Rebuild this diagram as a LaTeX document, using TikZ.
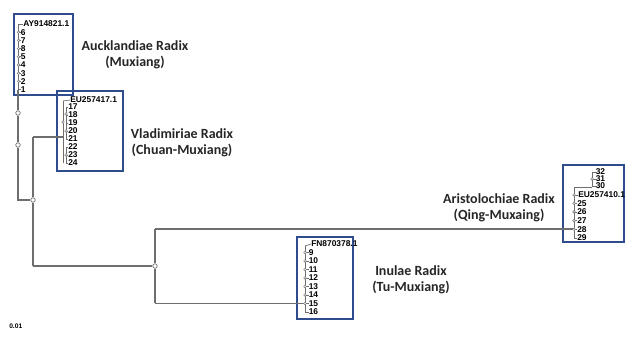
\documentclass[tikz,border=0pt]{standalone}
\usepackage{fontspec}
\usepackage{xcolor}
\usetikzlibrary{positioning}
\newfontfamily\cladofont{Carlito}
\newfontfamily\puntafont{Liberation Sans}
\definecolor{grisRama}{HTML}{6E6E6E}
\definecolor{azulCaja}{HTML}{2F4C8E}
\definecolor{textoClado}{HTML}{262626}

\begin{document}
\begin{tikzpicture}[
  x=0.75pt, y=-0.75pt,
  % Estilos de ramas y cajas
  rama/.style={
    draw=grisRama, line width=0.9pt
  },
  ramita/.style={
    draw=grisRama, line width=0.5pt
  },
  caja/.style={
    draw=azulCaja, line width=1.1pt
  },
  nudo/.style={
    circle, draw=grisRama, fill=white, line width=0.5pt,
    inner sep=0pt, minimum size=3.4pt
  },
  nudito/.style={
    circle, draw=grisRama, fill=white, line width=0.35pt,
    inner sep=0pt, minimum size=2pt
  },
  % Estilos de texto
  etiqClado/.style={
    font=\cladofont\bfseries\fontsize{10.5}{12}\selectfont,
    text=textoClado, align=center, inner sep=0pt
  },
  punta/.style={
    font=\puntafont\bfseries\fontsize{6.3}{6.3}\selectfont,
    anchor=west, inner sep=0pt
  }
]
\useasboundingbox (0,0) rectangle (626,338);

% --- Cajas de los grupos ---
\draw[caja] (14,14)   rectangle (73,95)   node[coordinate] (cajaA) {};
\draw[caja] (57,91)   rectangle (123,171) node[coordinate] (cajaV) {};
\draw[caja] (563,165) rectangle (624,242) node[coordinate] (cajaQ) {};
\draw[caja] (297,237) rectangle (353,319) node[coordinate] (cajaI) {};

% --- Nodos internos del arbol ---
\coordinate (raizA) at (18,90);
\coordinate (codo)  at (18,200);
\node[nudo] (n1) at (33,200) {};
\node[nudo] (n2) at (155,266) {};
\coordinate (n1arriba) at (33,137);
\coordinate (n1abajo)  at (33,266);
\coordinate (n2arriba) at (155,229);
\coordinate (n2abajo)  at (155,303.5);
\coordinate (entradaV) at (63,137);
\coordinate (entradaQ) at (574,229);
\coordinate (entradaI) at (305,303.5);
\node[nudo] (m1) at (18,113) {};
\node[nudo] (m2) at (18,145) {};

% --- Ramas principales ---
\draw[rama] (raizA) -- (m1) -- (m2) -- (codo) -- (n1);
\draw[rama] (n1arriba) -- (n1) -- (n1abajo);
\draw[rama] (n1arriba) -- (entradaV);
\draw[rama] (n1abajo) -- (n2);
\draw[rama] (n2arriba) -- (n2) -- (n2abajo);
\draw[rama] (n2arriba) -- (entradaQ);
\draw[rama] (n2abajo) -- (entradaI);

% --- Grupo Aucklandiae ---
\coordinate (tA0) at (18,24);
\draw[ramita] (tA0) -- (raizA);
\node[punta] (pA0) at (23,24) {AY914821.1};
\draw[ramita] (tA0) -- (pA0.west);
\foreach \t [count=\i] in {6,7,8,5,4,3,2,1} {
  \node[punta] (pA\i) at (20.5,{24+8.2*\i}) {\t};
  \draw[ramita] (18,{24+8.2*\i}) -- (pA\i.west);
  \ifnum\i<8 \node[nudito] at (18.6,{24+8.2*\i}) {}; \fi
}

% --- Grupo Vladimiriae ---
\coordinate (tV0) at (63,101);
\coordinate (tV9) at (63,163);
\draw[ramita] (tV0) -- (tV9);
\draw[ramita] (66,107) -- (66,139);
\draw[ramita] (66,147) -- (66,163);
\node[punta] (pV0) at (70,100) {EU257417.1};
\draw[ramita] (tV0) -- (pV0.west);
\foreach \t [count=\i] in {17,18,19,20,21,22,23,24} {
  \node[punta] (pV\i) at (68,{99+8*\i}) {\t};
  \draw[ramita] (66,{99+8*\i}) -- (pV\i.west);
}
\node[nudito] at (63,122) {};
\node[nudito] at (66,114) {};
\node[nudito] at (66,131) {};
\node[nudito] at (66,155) {};

% --- Grupo Aristolochiae ---
\coordinate (tQ0) at (574,187);
\coordinate (tQ9) at (574,238);
\coordinate (tQb) at (592,187);
\draw[ramita] (tQ0) -- (tQ9);
\draw[ramita] (tQ0) -- (tQb);
\draw[ramita] (tQb) -- (592,172);
\foreach \t [count=\i] in {32,31,30} {
  \node[punta] (pQt\i) at (595.5,{165+7*\i}) {\t};
  \draw[ramita] (592,{165+7*\i}) -- (pQt\i.west);
}
\node[nudito] at (592,179) {};
\node[punta] (pQ0) at (578,195) {EU257410.1};
\draw[ramita] (574,195) -- (pQ0.west);
\node[nudito] at (574,195) {};
\foreach \t [count=\i] in {25,26,27,28,29} {
  \node[punta] (pQ\i) at (577,{194.5+8.7*\i}) {\t};
  \draw[ramita] (574,{194.5+8.7*\i}) -- (pQ\i.west);
  \ifnum\i<5 \node[nudito] at (574,{194.5+8.7*\i}) {}; \fi
}

% --- Grupo Inulae ---
\coordinate (tI0) at (305,246);
\coordinate (tI9) at (305,313);
\draw[ramita] (tI0) -- (tI9);
\node[punta] (pI0) at (311,244) {FN870378.1};
\draw[ramita] (tI0) -- (pI0.west);
\foreach \t [count=\i] in {9,10,11,12,13,14,15,16} {
  \node[punta] (pI\i) at (308.5,{244+8.5*\i}) {\t};
  \draw[ramita] (305,{244+8.5*\i}) -- (pI\i.west);
  \ifnum\i<8 \node[nudito] at (305,{244+8.5*\i}) {}; \fi
}

% --- Nombres de los grupos ---
\node[etiqClado] (nomA) at (135,55) {Aucklandiae Radix\\(Muxiang)};
\node[etiqClado] (nomV) at (182,143) {Vladimiriae Radix\\(Chuan-Muxiang)};
\node[etiqClado] (nomQ) at (499,208) {Aristolochiae Radix\\(Qing-Muxaing)};
\node[etiqClado] (nomI) at (411,280) {Inulae Radix\\(Tu-Muxiang)};

% --- Escala ---
\node[punta, font=\puntafont\bfseries\fontsize{5}{5}\selectfont] (escala) at (9,326) {0.01};

\end{tikzpicture}
\end{document}
